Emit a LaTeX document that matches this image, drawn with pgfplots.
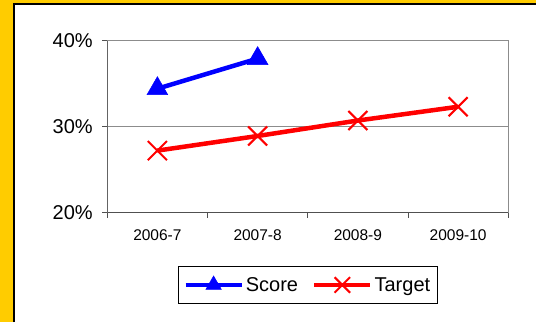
\documentclass[border=0pt]{standalone}
\usepackage{pgfplots}
\pgfplotsset{compat=1.18}
\usepackage{fontspec}
\setmainfont{Liberation Sans}
\definecolor{gold}{HTML}{FFCC00}
\definecolor{framegray}{HTML}{8C8C8C}
\definecolor{axisgray}{HTML}{505050}
\begin{document}
\begin{tikzpicture}[x=1pt,y=1pt]
\fill[gold] (0,0) rectangle (536,322);
\fill[white] (14,0) rectangle (536,318);
\draw[black,line width=1.3pt] (14,0) -- (14,318) -- (536,318);
\begin{axis}[
  at={(107,127.3)}, anchor=south west,
  scale only axis, width=401pt, height=172pt,
  xmin=0.5, xmax=4.5, ymin=20, ymax=40,
  xtick={0.5,1.5,2.5,3.5,4.5},
  x tick label as interval,
  xticklabels={2006-7,2007-8,2008-9,2009-10},
  ytick={20,30,40},
  yticklabels={20\%,30\%,40\%},
  xtick pos=left, ytick pos=left,
  tick align=outside, major tick length=5pt,
  tick style={draw=axisgray, line width=1pt},
  ymajorgrids, grid style={draw=framegray, line width=1pt},
  axis line style={draw=framegray, line width=1.2pt},
  yticklabel style={font=\fontsize{20}{24}\selectfont, xshift=-6pt},
  xticklabel style={font=\fontsize{15.5}{18}\selectfont, yshift=-9pt},
  legend columns=2,
  legend style={at={(0.5,-0.31)}, anchor=north, draw=black, line width=0.8pt,
    font=\fontsize{20}{24}\selectfont, inner xsep=5pt, inner ysep=9pt,
    /tikz/every even column/.append style={column sep=12pt}},
  legend image code/.code={\draw[#1, mark repeat=2, mark phase=2] plot coordinates {(0pt,0pt) (28pt,0pt) (56pt,0pt)};},
]
\addplot[blue, line width=4.5pt, mark=triangle*, mark size=12pt,
  mark options={solid, line width=0.5pt}, legend image post style={mark size=9pt}]
  coordinates {(1,34.4) (2,37.9)};
\addlegendentry{Score}
\addplot[red, line width=4.5pt, mark=x, mark size=13.5pt,
  mark options={solid, line width=2pt}, legend image post style={mark size=11pt}]
  coordinates {(1,27.2) (2,28.9) (3,30.7) (4,32.3)};
\addlegendentry{Target}
\draw[axisgray, line width=1.2pt] (rel axis cs:0,1) -- (rel axis cs:0,0) -- (rel axis cs:1,0);
\end{axis}
\pgfresetboundingbox
\useasboundingbox (0,0) rectangle (536,322);
\end{tikzpicture}
\end{document}
